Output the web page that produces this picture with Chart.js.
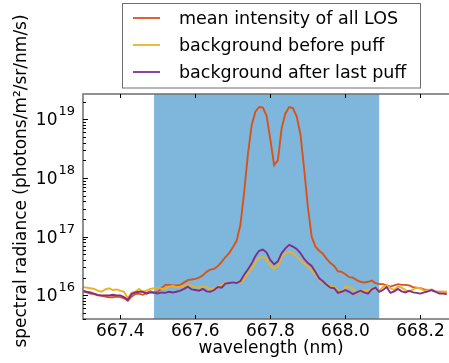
<!DOCTYPE html>
<html>
<head>
<meta charset="utf-8">
<script src="https://cdn.jsdelivr.net/npm/chart.js@4.4.0/dist/chart.umd.min.js"></script>
<style>
  html, body { margin: 0; padding: 0; background: #fff; }
</style>
</head>
<body>
<canvas id="myChart" width="449" height="363"></canvas>
<script>
/* data */
var wavelength = [
  667.30,667.31,667.32,667.33,667.34,667.35,667.36,667.37,667.38,667.39,
  667.40,667.41,667.42,667.43,667.44,667.45,667.46,667.47,667.48,667.49,
  667.50,667.51,667.52,667.53,667.54,667.55,667.56,667.57,667.58,667.59,
  667.60,667.61,667.62,667.63,667.64,667.65,667.66,667.67,667.68,667.69,
  667.70,667.71,667.72,667.73,667.74,667.75,667.76,667.77,667.78,667.79,
  667.80,667.81,667.82,667.83,667.84,667.85,667.86,667.87,667.88,667.89,
  667.90,667.91,667.92,667.93,667.94,667.95,667.96,667.97,667.98,667.99,
  668.00,668.01,668.02,668.03,668.04,668.05,668.06,668.07,668.08,668.09,
  668.10,668.11,668.12,668.13,668.14,668.15,668.16,668.17,668.18,668.19,
  668.20,668.21,668.22,668.23,668.24,668.25,668.26,668.27
];
var meanAllLOS = [
  1.17e16,1.12e16,1.07e16,1.05e16,1.00e16,0.98e16,0.95e16,0.93e16,0.93e16,0.95e16,
  0.93e16,0.89e16,0.81e16,0.95e16,1.05e16,1.07e16,1.02e16,1.10e16,1.17e16,1.12e16,
  1.15e16,1.32e16,1.51e16,1.51e16,1.48e16,1.48e16,1.51e16,1.66e16,1.82e16,1.86e16,
  1.91e16,2.00e16,2.19e16,2.51e16,2.75e16,2.82e16,3.16e16,3.72e16,4.47e16,5.25e16,
  6.61e16,8.51e16,1.58e17,5.62e17,2.51e18,7.94e18,1.35e19,1.62e19,1.58e19,1.15e19,
  4.47e18,1.66e18,2.00e18,7.08e18,1.26e19,1.62e19,1.55e19,1.12e19,5.62e18,1.41e18,
  3.16e17,1.00e17,6.76e16,5.75e16,5.13e16,4.17e16,3.55e16,3.16e16,2.57e16,2.51e16,
  2.29e16,2.04e16,2.00e16,1.82e16,1.70e16,1.66e16,1.70e16,1.78e16,1.62e16,1.55e16,
  1.55e16,1.48e16,1.41e16,1.48e16,1.55e16,1.51e16,1.51e16,1.48e16,1.38e16,1.35e16,
  1.32e16,1.26e16,1.23e16,1.23e16,1.17e16,1.15e16,1.15e16,1.12e16
];
var bgBeforePuff = [
  1.38e16,1.35e16,1.32e16,1.29e16,1.20e16,1.15e16,1.26e16,1.32e16,1.23e16,1.26e16,
  1.20e16,1.15e16,0.89e16,1.10e16,1.15e16,1.29e16,1.15e16,1.20e16,1.29e16,1.32e16,
  1.35e16,1.29e16,1.32e16,1.41e16,1.45e16,1.38e16,1.41e16,1.45e16,1.51e16,1.45e16,
  1.38e16,1.35e16,1.41e16,1.38e16,1.26e16,1.32e16,1.41e16,1.51e16,1.62e16,1.66e16,
  1.66e16,1.70e16,1.62e16,1.91e16,2.40e16,2.88e16,3.63e16,4.37e16,4.57e16,4.07e16,
  3.24e16,2.82e16,3.16e16,4.47e16,5.25e16,5.50e16,5.13e16,4.57e16,3.98e16,3.47e16,
  3.16e16,2.69e16,2.29e16,1.86e16,1.66e16,1.55e16,1.45e16,1.38e16,1.20e16,1.10e16,
  1.41e16,1.38e16,1.29e16,1.07e16,1.17e16,1.23e16,1.20e16,1.29e16,1.26e16,1.20e16,
  1.38e16,1.48e16,1.32e16,1.23e16,1.41e16,1.35e16,1.23e16,1.15e16,1.26e16,1.35e16,
  1.32e16,1.20e16,1.23e16,1.26e16,1.17e16,1.12e16,1.15e16,1.15e16
];
var bgAfterLastPuff = [
  1.20e16,1.15e16,1.12e16,1.07e16,1.02e16,1.00e16,1.00e16,1.00e16,1.02e16,1.00e16,
  1.00e16,0.93e16,0.83e16,1.05e16,1.12e16,1.15e16,1.15e16,1.07e16,1.12e16,1.10e16,
  1.07e16,1.12e16,1.10e16,1.15e16,1.12e16,1.15e16,1.20e16,1.29e16,1.41e16,1.26e16,
  1.23e16,1.20e16,1.29e16,1.17e16,1.15e16,1.23e16,1.38e16,1.35e16,1.58e16,1.62e16,
  1.66e16,1.62e16,1.74e16,2.24e16,2.75e16,3.47e16,4.68e16,5.75e16,6.03e16,5.37e16,
  3.98e16,3.39e16,3.80e16,5.25e16,6.31e16,7.24e16,6.76e16,6.17e16,5.25e16,4.17e16,
  3.55e16,3.16e16,2.51e16,1.95e16,1.74e16,1.51e16,1.35e16,1.32e16,1.10e16,1.15e16,
  1.23e16,1.15e16,1.05e16,1.12e16,1.20e16,1.12e16,1.07e16,1.26e16,1.35e16,1.15e16,
  1.23e16,1.38e16,1.10e16,1.17e16,1.29e16,1.17e16,1.12e16,1.20e16,1.12e16,1.10e16,
  1.07e16,1.12e16,1.17e16,1.23e16,1.15e16,1.07e16,1.07e16,1.05e16
];
var xTicks = [667.4, 667.6, 667.8, 668.0, 668.2];
var yDecades = [1e16, 1e17, 1e18, 1e19];
var band = [667.49, 668.09];   // shaded window
var seriesLabels = ["mean intensity of all LOS", "background before puff", "background after last puff"];
var seriesColors = ["#d95319", "#edb120", "#7e2f8e"];

var FONT = '"DejaVu Sans", sans-serif';

function pts(arr) {
  return wavelength.map(function(w, i) { return { x: w, y: arr[i] }; });
}

/* band, frame, ticks, labels, legend */
var decor = {
  id: 'decor',
  beforeDatasetsDraw: function(chart) {
    var ctx = chart.ctx, a = chart.chartArea, xs = chart.scales.x;
    var x0 = xs.getPixelForValue(band[0]), x1 = xs.getPixelForValue(band[1]);
    ctx.save();
    ctx.fillStyle = "rgb(127,183,220)";
    ctx.fillRect(x0, a.top, x1 - x0, a.bottom - a.top);
    ctx.restore();
  },
  afterDraw: function(chart) {
    var ctx = chart.ctx, a = chart.chartArea, xs = chart.scales.x, ys = chart.scales.y;
    ctx.save();

    // frame
    ctx.strokeStyle = "#6e6e6e";
    ctx.lineWidth = 1.5;
    ctx.beginPath();
    ctx.moveTo(a.right + 5, a.top);
    ctx.lineTo(a.left, a.top);
    ctx.lineTo(a.left, a.bottom);
    ctx.lineTo(a.right + 5, a.bottom);
    ctx.stroke();

    // ticks (inside)
    ctx.strokeStyle = "#000";
    ctx.lineWidth = 1;
    ctx.beginPath();
    xTicks.forEach(function(v) {
      var px = Math.round(xs.getPixelForValue(v)) + 0.5;
      ctx.moveTo(px, a.bottom); ctx.lineTo(px, a.bottom - 4);
      ctx.moveTo(px, a.top); ctx.lineTo(px, a.top + 4);
    });
    for (var e = 15; e <= 19; e++) {
      for (var m = 1; m <= 9; m++) {
        var v = m * Math.pow(10, e);
        if (v < ys.min || v > ys.max) continue;
        var py = Math.round(ys.getPixelForValue(v)) + 0.5;
        var len = m === 1 ? 5 : 3;
        ctx.moveTo(a.left, py); ctx.lineTo(a.left + len, py);
      }
    }
    ctx.stroke();

    ctx.fillStyle = "#000";

    // x tick labels
    ctx.font = "17px " + FONT;
    ctx.textAlign = "center";
    ctx.textBaseline = "alphabetic";
    xTicks.forEach(function(v) {
      ctx.fillText(v.toFixed(1), xs.getPixelForValue(v), 336);
    });

    // y tick labels 10^n
    yDecades.forEach(function(v) {
      var py = ys.getPixelForValue(v);
      var ex = Math.round(Math.log10(v));
      ctx.font = "17px " + FONT;
      ctx.textAlign = "right";
      ctx.fillText("10", 57.5, py + 6);
      ctx.font = "13px " + FONT;
      ctx.textAlign = "left";
      ctx.fillText(String(ex), 58.5, py - 4);
    });

    // axis titles
    ctx.font = "17px " + FONT;
    ctx.textAlign = "center";
    ctx.fillText("wavelength (nm)", 271, 353);
    ctx.save();
    ctx.translate(22, 181);
    ctx.rotate(-Math.PI / 2);
    ctx.textBaseline = "middle";
    ctx.fillText("spectral radiance (photons/m\u00b2/sr/nm/s)", 0, 0);
    ctx.restore();

    // legend
    ctx.strokeStyle = "#6e6e6e";
    ctx.lineWidth = 1;
    ctx.strokeRect(122.5, 3.5, 298, 84.5);
    var rows = [18, 45, 72];
    ctx.font = "17.5px " + FONT;
    ctx.textAlign = "left";
    ctx.textBaseline = "middle";
    chart.data.datasets.forEach(function(ds, i) {
      ctx.strokeStyle = ds.borderColor;
      ctx.lineWidth = 1.8;
      ctx.beginPath();
      ctx.moveTo(133, rows[i]); ctx.lineTo(160, rows[i]);
      ctx.stroke();
      ctx.fillStyle = "#000";
      ctx.fillText(ds.label, 179, rows[i] + 1);
    });
    ctx.restore();
  }
};

var ctx = document.getElementById("myChart").getContext("2d");
var myChart = new Chart(ctx, {
  type: 'line',
  data: {
    datasets: [{
      label: seriesLabels[0],
      data: pts(meanAllLOS),
      borderColor: seriesColors[0],
      order: 3
    }, {
      label: seriesLabels[1],
      data: pts(bgBeforePuff),
      borderColor: seriesColors[1],
      order: 2
    }, {
      label: seriesLabels[2],
      data: pts(bgAfterLastPuff),
      borderColor: seriesColors[2],
      order: 1
    }]
  },
  options: {
    responsive: false,
    animation: false,
    devicePixelRatio: 1,
    layout: { padding: { top: 94, left: 0, right: 0, bottom: 0 } },
    elements: {
      line: { borderWidth: 1.9, tension: 0, fill: false },
      point: { radius: 0 }
    },
    plugins: {
      legend: { display: false },
      tooltip: { enabled: false }
    },
    scales: {
      x: {
        type: 'linear',
        min: 667.3006,
        max: 668.276,
        grid: { display: false },
        border: { display: false },
        afterBuildTicks: function(s) {
          s.ticks = xTicks.map(function(v) { return { value: v }; });
        },
        afterFit: function(s) { s.height = 44; },
        ticks: { display: false }
      },
      y: {
        type: 'logarithmic',
        min: 3.95e15,
        max: 2.7e19,
        grid: { display: false },
        border: { display: false },
        afterBuildTicks: function(s) {
          s.ticks = yDecades.map(function(v) { return { value: v }; });
        },
        afterFit: function(s) { s.width = 83; },
        ticks: { display: false }
      }
    }
  },
  plugins: [decor]
});
</script>
</body>
</html>
